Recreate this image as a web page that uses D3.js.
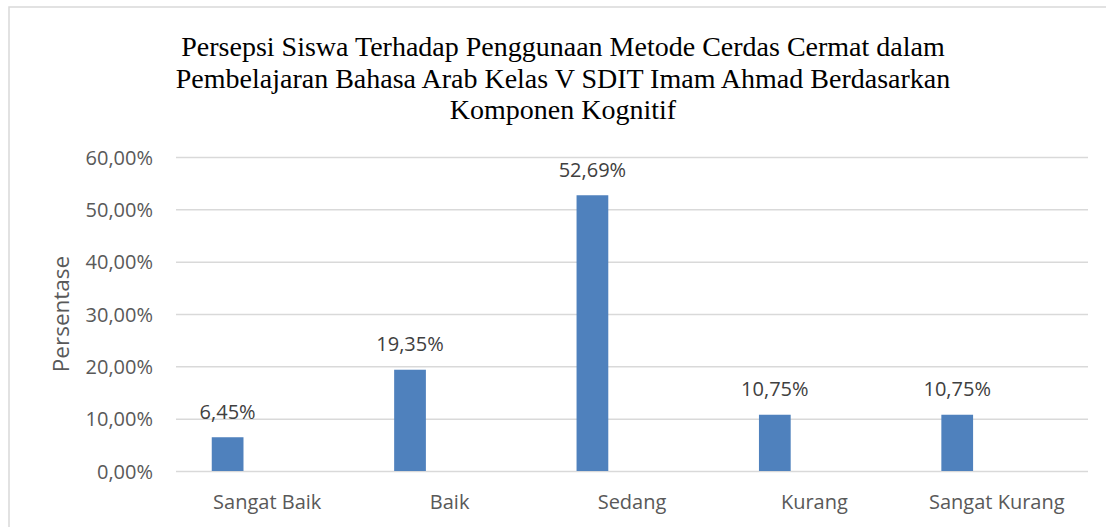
<!DOCTYPE html>
<html>
<head>
<meta charset="utf-8">
<script src="https://cdn.jsdelivr.net/npm/d3@7"></script>
<style>
  html, body { margin: 0; padding: 0; background: #fff; }
  svg { display: block; }
</style>
</head>
<body>
<svg id="chart" width="1106" height="527"></svg>
<script>
const categories = ["Sangat Baik", "Baik", "Sedang", "Kurang", "Sangat Kurang"];
const values = [6.45, 19.35, 52.69, 10.75, 10.75];
const valueLabels = ["6,45%", "19,35%", "52,69%", "10,75%", "10,75%"];
const yTicks = [0, 10, 20, 30, 40, 50, 60];
const yTickLabels = ["0,00%", "10,00%", "20,00%", "30,00%", "40,00%", "50,00%", "60,00%"];
const titleLines = [
  "Persepsi Siswa Terhadap Penggunaan Metode Cerdas Cermat dalam",
  "Pembelajaran Bahasa Arab Kelas V SDIT Imam Ahmad Berdasarkan",
  "Komponen Kognitif"
];
const yAxisTitle = "Persentase";

const svg = d3.select("#chart");
const W = 1106, H = 527;
const plot = { left: 176, right: 1088, top: 157, bottom: 471 };
const sans = "'Open Sans', 'Noto Sans', sans-serif";
const textGray = "#595959";

// chart border
svg.append("rect")
  .attr("x", 9).attr("y", 7)
  .attr("width", W + 20).attr("height", H + 20)
  .attr("fill", "#fff").attr("stroke", "#d9d9d9").attr("stroke-width", 1.5);

const x = d3.scaleBand().domain(categories).range([plot.left, plot.right]).paddingInner(0).paddingOuter(0);
const y = d3.scaleLinear().domain([0, 60]).range([plot.bottom, plot.top]);

// gridlines + y axis labels via d3 axis
const yAxis = d3.axisLeft(y).tickValues(yTicks)
  .tickFormat((d, i) => yTickLabels[i])
  .tickSize(-(plot.right - plot.left)).tickPadding(23);
const gy = svg.append("g").attr("transform", `translate(${plot.left},0)`).call(yAxis);
gy.select(".domain").remove();
gy.selectAll(".tick line").attr("stroke", "#d9d9d9").attr("stroke-width", 1.5);
gy.selectAll(".tick text")
  .attr("fill", textGray).attr("font-family", sans).attr("font-size", 20)
  .attr("dy", "0.36em");

// bars
const bw = x.bandwidth();
svg.append("g").selectAll("rect").data(values).join("rect")
  .attr("x", (d, i) => x(categories[i]) + bw * 0.196)
  .attr("width", bw * 0.174)
  .attr("y", d => y(d))
  .attr("height", d => y(0) - y(d))
  .attr("fill", "#4f81bd");

// data labels
svg.append("g").selectAll("text").data(values).join("text")
  .attr("x", (d, i) => x(categories[i]) + bw * 0.196 + bw * 0.087)
  .attr("y", d => y(d) - 18.5)
  .attr("text-anchor", "middle")
  .attr("fill", "#404040").attr("font-family", sans).attr("font-size", 20)
  .text((d, i) => valueLabels[i]);

// category axis labels
const xAxis = d3.axisBottom(x).tickSize(0).tickPadding(0);
const gx = svg.append("g").attr("transform", `translate(0,${plot.bottom})`).call(xAxis);
gx.select(".domain").remove();
gx.selectAll(".tick text")
  .attr("y", 38).attr("dy", 0)
  .attr("fill", textGray).attr("font-family", sans).attr("font-size", 20);

// y axis title
svg.append("text")
  .attr("transform", "translate(69,314) rotate(-90)")
  .attr("text-anchor", "middle")
  .attr("fill", textGray).attr("font-family", sans).attr("font-size", 22.5)
  .text(yAxisTitle);

// title
const title = svg.append("text")
  .attr("text-anchor", "middle")
  .attr("fill", "#000").attr("font-family", "'Liberation Serif', 'Times New Roman', serif")
  .attr("font-size", 28);
titleLines.forEach((t, i) => {
  title.append("tspan").attr("x", 563).attr("y", 56 + i * 31.5).text(t);
});
</script>
</body>
</html>
